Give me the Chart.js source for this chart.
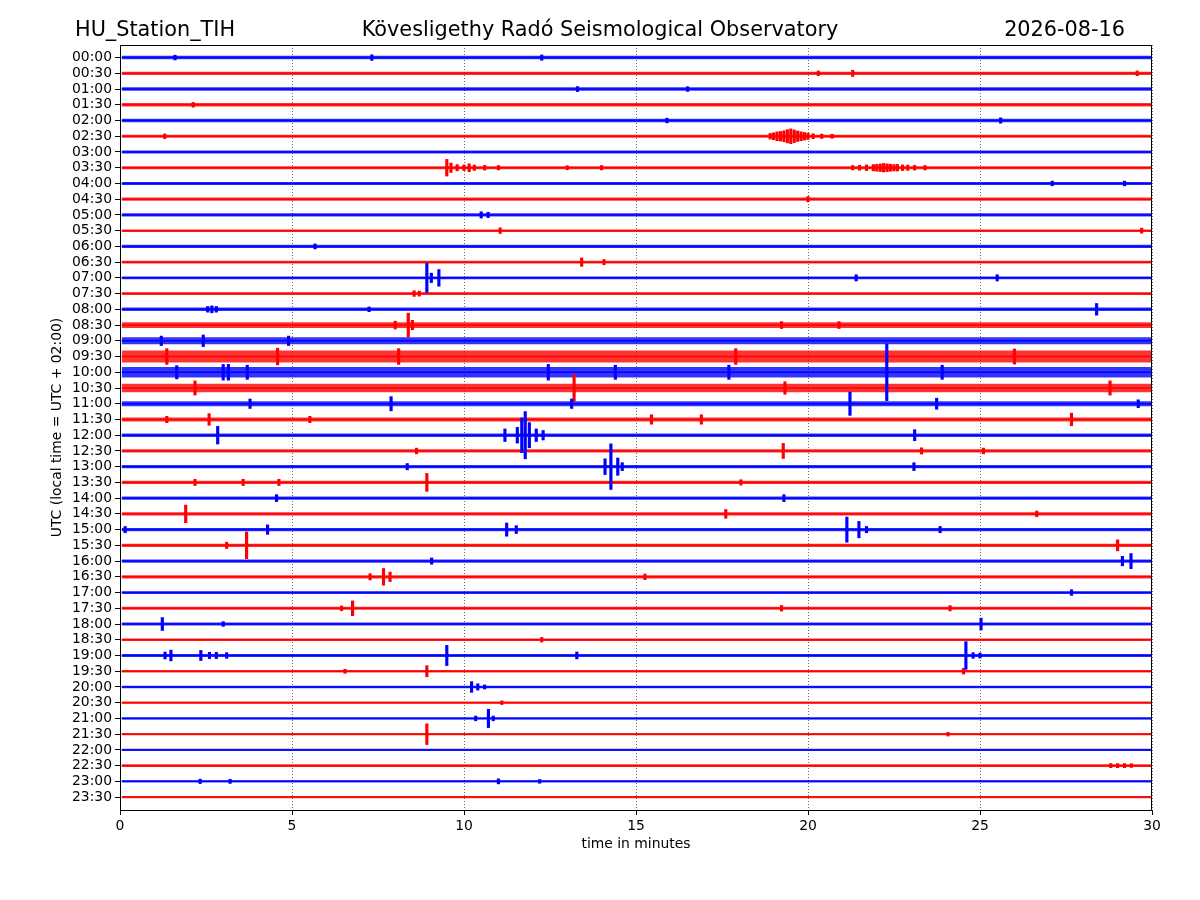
<!DOCTYPE html>
<html>
<head>
<meta charset="utf-8">
<title>HU_Station_TIH dayplot</title>
<script src="https://cdn.jsdelivr.net/npm/chart.js@4/dist/chart.umd.min.js"></script>
<style>
  html, body { margin: 0; background: #fff; }
  #wrap { width: 1200px; height: 900px; }
</style>
</head>
<body>
<div id="wrap"><canvas id="c" width="1200" height="900"></canvas></div>
<script>
// Helicorder (dayplot): 48 half-hour lines, 30 minutes each.

const stationName = 'HU_Station_TIH';
const observatory = 'Kövesligethy Radó Seismological Observatory';
const plotDate = '2026-08-16';

const traceLabels = [
  '00:00', '00:30', '01:00', '01:30', '02:00', '02:30', '03:00', '03:30',
  '04:00', '04:30', '05:00', '05:30', '06:00', '06:30', '07:00', '07:30',
  '08:00', '08:30', '09:00', '09:30', '10:00', '10:30', '11:00', '11:30',
  '12:00', '12:30', '13:00', '13:30', '14:00', '14:30', '15:00', '15:30',
  '16:00', '16:30', '17:00', '17:30', '18:00', '18:30', '19:00', '19:30',
  '20:00', '20:30', '21:00', '21:30', '22:00', '22:30', '23:00', '23:30'
];

// Background noise half-amplitude of each line (in line spacings).
const noise = [
  0.11, 0.10, 0.11, 0.11, 0.11, 0.10, 0.09, 0.10,
  0.09, 0.10, 0.10, 0.08, 0.10, 0.09, 0.09, 0.09,
  0.11, 0.18, 0.22, 0.38, 0.34, 0.27, 0.16, 0.13,
  0.11, 0.10, 0.10, 0.10, 0.10, 0.10, 0.11, 0.10,
  0.10, 0.10, 0.09, 0.10, 0.10, 0.08, 0.10, 0.08,
  0.08, 0.07, 0.07, 0.07, 0.07, 0.08, 0.07, 0.07
];

// Arrivals / bursts: [line index, minute, half-amplitude in line spacings].
const events = [
  [0, 1.6, 0.15], [0, 7.32, 0.18], [0, 12.26, 0.17],
  [1, 20.3, 0.15], [1, 21.3, 0.2], [1, 29.57, 0.15],
  [2, 13.3, 0.16], [2, 16.5, 0.15],
  [3, 2.13, 0.15],
  [4, 15.9, 0.15], [4, 25.6, 0.17],
  [5, 1.3, 0.15], [5, 18.9, 0.18], [5, 19.0, 0.22], [5, 19.1, 0.28], [5, 19.2, 0.3],
  [5, 19.3, 0.35], [5, 19.4, 0.42], [5, 19.5, 0.47], [5, 19.6, 0.4], [5, 19.7, 0.33],
  [5, 19.8, 0.28], [5, 19.9, 0.24], [5, 20.0, 0.2], [5, 20.15, 0.16], [5, 20.4, 0.14],
  [5, 20.7, 0.13],
  [7, 9.5, 0.53], [7, 9.62, 0.3], [7, 9.8, 0.2], [7, 10.0, 0.18], [7, 10.15, 0.25],
  [7, 10.3, 0.17], [7, 10.6, 0.15], [7, 11.0, 0.14], [7, 13.0, 0.13], [7, 14.0, 0.14],
  [7, 21.3, 0.14], [7, 21.5, 0.16], [7, 21.7, 0.18], [7, 21.9, 0.2], [7, 22.0, 0.22],
  [7, 22.1, 0.24], [7, 22.2, 0.27], [7, 22.3, 0.25], [7, 22.4, 0.22], [7, 22.5, 0.2],
  [7, 22.6, 0.21], [7, 22.75, 0.18], [7, 22.9, 0.17], [7, 23.1, 0.15], [7, 23.4, 0.14],
  [8, 27.1, 0.15], [8, 29.2, 0.15],
  [9, 20.0, 0.17],
  [10, 10.5, 0.2], [10, 10.7, 0.17],
  [11, 11.05, 0.18], [11, 29.7, 0.16],
  [12, 5.67, 0.16],
  [13, 13.42, 0.27], [13, 14.07, 0.17],
  [14, 8.92, 0.92], [14, 9.05, 0.3], [14, 9.27, 0.53], [14, 21.4, 0.2], [14, 25.5, 0.2],
  [15, 8.55, 0.18], [15, 8.7, 0.16],
  [16, 2.55, 0.18], [16, 2.67, 0.22], [16, 2.8, 0.18], [16, 7.24, 0.15], [16, 28.39, 0.37],
  [17, 8.0, 0.25], [17, 8.38, 0.76], [17, 8.5, 0.3], [17, 19.23, 0.22], [17, 20.9, 0.22],
  [18, 1.2, 0.3], [18, 2.42, 0.37], [18, 4.9, 0.3],
  [19, 1.36, 0.5], [19, 4.58, 0.53], [19, 8.1, 0.5], [19, 17.9, 0.5], [19, 26.0, 0.48],
  [20, 1.65, 0.42], [20, 3.0, 0.5], [20, 3.15, 0.5], [20, 3.7, 0.45], [20, 12.45, 0.5],
  [20, 14.4, 0.45], [20, 17.7, 0.45], [20, 22.29, 1.8], [20, 23.9, 0.45],
  [21, 2.18, 0.45], [21, 13.2, 0.85], [21, 19.33, 0.4], [21, 28.78, 0.45],
  [22, 3.78, 0.3], [22, 7.88, 0.45], [22, 13.13, 0.3], [22, 21.22, 0.74], [22, 23.74, 0.35],
  [22, 29.6, 0.25],
  [23, 1.36, 0.2], [23, 2.59, 0.37], [23, 5.52, 0.2], [23, 15.45, 0.3], [23, 16.9, 0.3],
  [23, 27.66, 0.4],
  [24, 2.84, 0.56], [24, 11.19, 0.4], [24, 11.55, 0.5], [24, 11.68, 1.1], [24, 11.78, 1.5],
  [24, 11.9, 0.8], [24, 12.1, 0.4], [24, 12.3, 0.3], [24, 23.1, 0.35],
  [25, 8.62, 0.18], [25, 19.28, 0.48], [25, 23.3, 0.2], [25, 25.1, 0.18],
  [26, 8.35, 0.2], [26, 14.1, 0.5], [26, 14.27, 1.45], [26, 14.47, 0.55], [26, 14.6, 0.25],
  [26, 23.08, 0.25],
  [27, 2.18, 0.2], [27, 3.58, 0.2], [27, 4.62, 0.2], [27, 8.92, 0.57], [27, 18.05, 0.17],
  [28, 4.55, 0.22], [28, 19.3, 0.22],
  [29, 1.91, 0.56], [29, 17.61, 0.28], [29, 26.65, 0.18],
  [30, 0.15, 0.2], [30, 4.29, 0.3], [30, 11.24, 0.42], [30, 11.52, 0.25], [30, 21.13, 0.8],
  [30, 21.48, 0.52], [30, 21.7, 0.2], [30, 23.84, 0.2],
  [31, 3.1, 0.2], [31, 3.68, 0.85], [31, 29.0, 0.35],
  [32, 9.06, 0.2], [32, 29.14, 0.3], [32, 29.39, 0.48],
  [33, 7.27, 0.2], [33, 7.66, 0.53], [33, 7.85, 0.3], [33, 15.26, 0.18],
  [34, 27.66, 0.18],
  [35, 6.44, 0.15], [35, 6.76, 0.47], [35, 19.23, 0.18], [35, 24.13, 0.17],
  [36, 1.23, 0.41], [36, 3.0, 0.15], [36, 25.03, 0.37],
  [37, 12.26, 0.15],
  [38, 1.31, 0.22], [38, 1.48, 0.34], [38, 2.35, 0.32], [38, 2.6, 0.2], [38, 2.8, 0.2],
  [38, 3.1, 0.18], [38, 9.5, 0.64], [38, 13.28, 0.22], [38, 24.59, 0.88], [38, 24.8, 0.18],
  [38, 25.0, 0.16],
  [39, 6.54, 0.13], [39, 8.92, 0.35], [39, 24.52, 0.18],
  [40, 10.22, 0.34], [40, 10.4, 0.2], [40, 10.6, 0.13],
  [41, 11.1, 0.12],
  [42, 10.34, 0.15], [42, 10.71, 0.58], [42, 10.85, 0.15],
  [43, 8.92, 0.66], [43, 24.07, 0.12],
  [45, 28.8, 0.13], [45, 29.0, 0.13], [45, 29.2, 0.13], [45, 29.4, 0.12],
  [46, 2.33, 0.14], [46, 3.2, 0.13], [46, 11.0, 0.16], [46, 12.2, 0.12]
];

const traceStart = 0.05;   // minutes
const traceEnd = 30;
const xTicks = [0, 5, 10, 15, 20, 25, 30];
const lineRgb = ['0,0,255', '255,0,0'];   // full hours blue, half hours red

const FONT = '"DejaVu Sans", "Liberation Sans", sans-serif';
const tickFont = { family: FONT, size: 13.9 };

const datasets = [];
traceLabels.forEach((label, i) => {
  const rgb = lineRgb[i % 2];
  datasets.push({
    type: 'line',
    label: label + ' noise',
    data: [{ x: traceStart, y: i - noise[i] }, { x: traceEnd, y: i - noise[i] }],
    fill: { value: i + noise[i] },
    backgroundColor: 'rgba(' + rgb + ',0.8)',
    borderColor: 'transparent',
    borderWidth: 0,
    pointRadius: 0,
    order: 3
  });
  datasets.push({
    type: 'line',
    label: label,
    data: [{ x: traceStart, y: i }, { x: traceEnd, y: i }],
    borderColor: 'rgb(' + rgb + ')',
    borderWidth: 1.5,
    pointRadius: 0,
    fill: false,
    order: 2
  });
});
lineRgb.forEach((rgb, parity) => {
  datasets.push({
    type: 'bar',
    label: parity ? 'half hour events' : 'hour events',
    data: events.filter(e => e[0] % 2 === parity)
      .map(([t, m, a]) => ({ x: m, y: [t - a, t + a] })),
    backgroundColor: 'rgb(' + rgb + ')',
    barThickness: 2.5,
    grouped: false,
    order: 1
  });
});

// Title row above the axes and the four spines round the plot.
const decorations = {
  id: 'decorations',
  afterDatasetsDraw(chart) {
    const { ctx, chartArea: a } = chart;
    ctx.save();
    ctx.strokeStyle = '#000';
    ctx.lineWidth = 1;
    ctx.strokeRect(Math.round(a.left) + 0.5, Math.round(a.top) + 0.5,
      Math.round(a.right - a.left) - 1, Math.round(a.bottom - a.top));
    ctx.restore();
  },
  afterDraw(chart) {
    const { ctx } = chart;
    ctx.save();
    ctx.fillStyle = '#000';
    ctx.font = '20.8px ' + FONT;
    ctx.textBaseline = 'alphabetic';
    ctx.textAlign = 'left';
    ctx.fillText(stationName, 75, 36);
    ctx.textAlign = 'center';
    ctx.fillText(observatory, 600, 36);
    ctx.textAlign = 'right';
    ctx.fillText(plotDate, 1125, 36);
    ctx.restore();
  }
};

new Chart(document.getElementById('c'), {
  type: 'line',
  data: { datasets },
  plugins: [decorations],
  options: {
    responsive: false,
    devicePixelRatio: 1,
    animation: false,
    events: [],
    layout: { padding: { top: 45, right: 48, bottom: 45, left: 48 } },
    plugins: {
      legend: { display: false },
      title: { display: false },
      tooltip: { enabled: false }
    },
    scales: {
      x: {
        type: 'linear',
        min: 0,
        max: 30,
        offset: false,
        afterBuildTicks: s => { s.ticks = xTicks.map(v => ({ value: v })); },
        afterFit: s => { s.height = 45; },
        ticks: { font: tickFont, color: '#000', padding: 3, maxRotation: 0 },
        grid: {
          offset: false,
          color: 'rgba(0,0,0,0.75)', lineWidth: 0.8,
          drawTicks: true, tickLength: 5, tickColor: '#000', tickWidth: 1
        },
        border: { display: false, dash: [1, 2] },
        title: {
          display: true, text: 'time in minutes', color: '#000',
          font: tickFont, padding: { top: 0, bottom: 2 }
        }
      },
      y: {
        type: 'linear',
        reverse: true,
        min: -0.8,
        max: 47.82,
        afterBuildTicks: s => { s.ticks = traceLabels.map((_, i) => ({ value: i })); },
        afterFit: s => { s.width = 72; },
        ticks: {
          font: tickFont, color: '#000', padding: 3, autoSkip: false,
          callback: v => traceLabels[v]
        },
        grid: {
          offset: false,
          drawOnChartArea: false, drawTicks: true,
          tickLength: 5, tickColor: '#000', tickWidth: 1
        },
        border: { display: false },
        title: {
          display: true, text: 'UTC (local time = UTC + 02:00)', color: '#000',
          font: tickFont, padding: { top: 1, bottom: 0 }
        }
      }
    }
  }
});
</script>
</body>
</html>
